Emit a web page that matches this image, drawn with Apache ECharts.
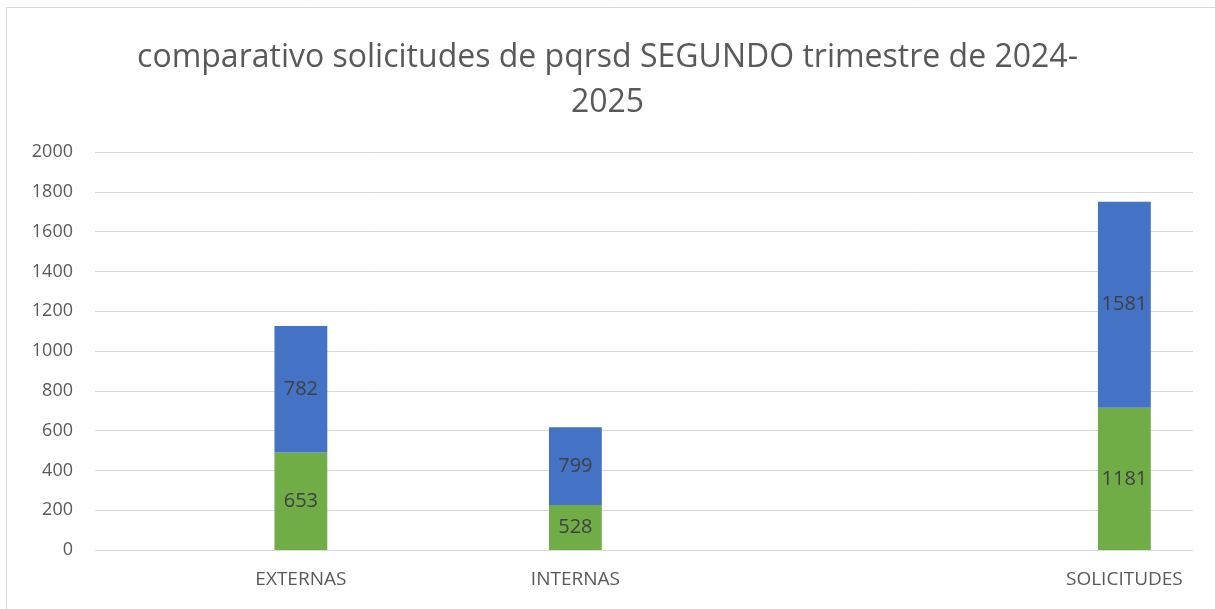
<!DOCTYPE html>
<html>
<head>
<meta charset="utf-8">
<script src="https://cdn.jsdelivr.net/npm/echarts@6/dist/echarts.min.js"></script>
<style>
html,body{margin:0;padding:0;background:#fff;}
#chart{width:1215px;height:609px;}
</style>
</head>
<body>
<div id="chart"></div>
<script>
// categorias (las vacias dejan el hueco como en el excel)
var categorias = ['', 'EXTERNAS', '', 'INTERNAS', '', '', '', 'SOLICITUDES'];
// alto de cada barra
var verde = [null, 490, null, 226, null, null, null, 715];
var azul = [null, 636, null, 391, null, null, null, 1035];
// etiquetas que muestra el grafico
var etiquetasVerde = ['', '653', '', '528', '', '', '', '1181'];
var etiquetasAzul = ['', '782', '', '799', '', '', '', '1581'];
var ticksY = [0, 200, 400, 600, 800, 1000, 1200, 1400, 1600, 1800, 2000];

var fuente = 'Open Sans';

function etiqueta(lista) {
	return {
		show: true,
		position: 'inside',
		color: '#404040',
		fontFamily: fuente,
		fontSize: 20,
		formatter: function (p) { return lista[p.dataIndex]; }
	};
}

var option = {
	backgroundColor: '#fff',
	animation: false,
	title: {
		text: 'comparativo solicitudes de pqrsd SEGUNDO trimestre de 2024-\n2025',
		left: 'center',
		top: 30,
		textStyle: {
			color: '#595959',
			fontFamily: fuente,
			fontWeight: 'normal',
			fontSize: 32,
			lineHeight: 45
		}
	},
	graphic: [{
		type: 'rect',
		shape: { x: 6.5, y: 7.5, width: 1220, height: 620 },
		style: { fill: 'none', stroke: '#d9d9d9', lineWidth: 1 },
		silent: true
	}],
	grid: {
		left: 95,
		right: 22,
		top: 152,
		bottom: 59
	},
	xAxis: {
		type: 'category',
		data: categorias,
		axisTick: { show: false },
		axisLine: { lineStyle: { color: '#d9d9d9' } },
		axisLabel: {
			color: '#595959',
			fontFamily: fuente,
			fontSize: 19,
			margin: 20,
			interval: 0
		}
	},
	yAxis: {
		type: 'value',
		min: ticksY[0],
		max: ticksY[ticksY.length - 1],
		interval: 200,
		axisLine: { show: false },
		axisTick: { show: false },
		splitLine: { lineStyle: { color: '#d9d9d9' } },
		axisLabel: {
			color: '#595959',
			fontFamily: fuente,
			fontSize: 18,
			margin: 22,
			formatter: function (v) { return String(v); }
		}
	},
	series: [{
		name: 'verde',
		type: 'bar',
		stack: 'total',
		barWidth: '38.5%',
		itemStyle: { color: '#70ad47' },
		label: etiqueta(etiquetasVerde),
		data: verde
	}, {
		name: 'azul',
		type: 'bar',
		stack: 'total',
		barWidth: '38.5%',
		itemStyle: { color: '#4472c4' },
		label: etiqueta(etiquetasAzul),
		data: azul
	}]
};

var chart = echarts.init(document.getElementById('chart'));
chart.setOption(option);
</script>
</body>
</html>
